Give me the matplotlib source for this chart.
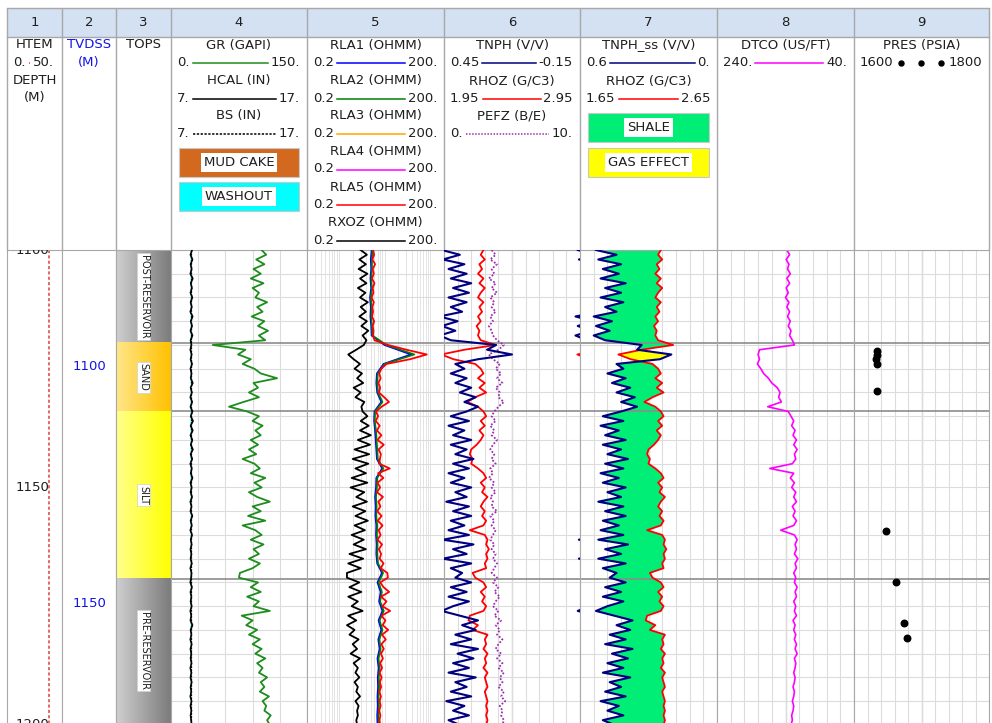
import matplotlib.pyplot as plt
import matplotlib.transforms as mtransforms
import numpy as np
from matplotlib.colors import LinearSegmentedColormap
from matplotlib.patches import Rectangle
from matplotlib.ticker import LogLocator, NullFormatter

# ---------------- data (1 m samples unless noted) ----------------
depth = np.arange(1100, 1201, 1.0)
depth2 = np.arange(1100, 1201, 2.0)

gr = [100, 105, 94, 103, 91, 99, 88, 102, 90, 97, 93, 106, 95, 101, 89, 103, 96, 107, 97, 104,
      46, 82, 74, 88, 79, 92, 99, 117, 91, 96, 86, 97, 80, 64,
      84, 97, 90, 101, 93, 99, 88, 96, 86, 94, 79, 92, 98, 88, 104, 92, 100, 86, 95, 109,
      90, 99, 85, 104, 79, 93, 100, 88, 102, 91, 97, 86, 98, 90, 76,
      75, 96, 88, 99, 84, 97, 91, 109, 78, 90, 83, 95, 86, 98, 90, 100, 93, 104, 95, 101,
      97, 106, 99, 103, 98, 108, 101, 105, 103, 110, 106, 109]

hcal = [8.55, 8.43, 8.58, 8.44, 8.52, 8.42, 8.6, 8.45, 8.54, 8.43, 8.57, 8.44, 8.53, 8.42, 8.59, 8.45, 8.55, 8.43, 8.58, 8.44,
        8.50, 8.42, 8.52, 8.44, 8.55, 8.43, 8.51, 8.45, 8.6, 8.44, 8.54, 8.42, 8.56, 8.43,
        8.58, 8.45, 8.62, 8.44, 8.6, 8.43, 8.57, 8.45, 8.61, 8.44, 8.56, 8.42, 8.53, 8.45, 8.58, 8.43, 8.52, 8.44, 8.55, 8.42,
        8.51, 8.43, 8.57, 8.44, 8.53, 8.42, 8.55, 8.45, 8.52, 8.43, 8.5, 8.44, 8.53, 8.42, 8.51,
        8.48, 8.42, 8.54, 8.43, 8.5, 8.44, 8.52, 8.42, 8.49, 8.43, 8.58, 8.44, 8.5, 8.42, 8.52, 8.43, 8.49, 8.44, 8.51, 8.42,
        8.5, 8.43, 8.52, 8.44, 8.49, 8.42, 8.51, 8.43, 8.5, 8.44, 8.48, 8.52]
bs = 8.45

rxoz = [3.0, 4.1, 2.8, 3.9, 2.7, 4.2, 2.9, 4.0, 2.6, 3.8, 2.9, 4.3, 3.0, 3.9, 2.8, 4.1, 3.1, 4.4, 3.3, 4.0,
        3.5, 2.4, 1.6, 2.1, 2.9, 2.2, 3.2, 2.5, 3.4, 2.1, 3.0, 2.3, 3.6, 3.1,
        3.3, 4.2, 3.0, 4.5, 2.9, 5.0, 2.6, 4.8, 2.2, 4.6, 2.0, 4.4, 2.3, 3.9, 1.9, 4.2, 1.8, 3.6, 2.4, 4.1,
        2.0, 3.8, 2.3, 4.3, 2.2, 3.7, 1.9, 3.5, 2.1, 3.9, 1.7, 3.4, 1.6, 3.0, 1.5,
        1.5, 2.8, 1.7, 3.1, 1.6, 2.6, 1.9, 3.3, 1.6, 2.4, 1.5, 2.2, 1.7, 2.7, 2.0, 2.5, 1.8, 2.9, 2.1, 2.6,
        2.3, 2.8, 2.2, 2.6, 2.4, 2.9, 2.3, 2.7, 2.5, 2.6, 2.4, 2.5]

rla5 = [5.6, 5.9, 5.4, 6.2, 5.5, 5.8, 5.3, 6.0, 5.5, 5.7, 5.2, 5.8, 5.4, 5.6, 5.3, 5.9, 5.5, 5.7, 5.6, 6.0,
        12, 30, 84, 36, 11, 8.5, 7.6, 8.2, 7.3, 8.0, 7.5, 9.8, 12.5, 8.6,
        6.5, 7.2, 6.4, 7.8, 6.8, 8.5, 7.0, 9.6, 7.4, 8.3, 7.9, 7.6, 13.0, 7.2, 9.4, 7.0, 8.0, 6.8, 9.2, 7.3,
        8.1, 6.9, 8.6, 7.1, 9.0, 7.4, 8.2, 7.0, 8.8, 7.5, 8.4, 7.8, 9.5, 8.2, 11.5,
        11.8, 8.0, 9.5, 12.6, 8.4, 11.0, 9.0, 13.2, 8.6, 10.4, 9.1, 12.0, 8.8, 10.6, 8.5, 9.6, 8.3, 9.2, 8.0, 8.8,
        7.8, 8.6, 7.9, 8.4, 7.7, 8.3, 7.8, 8.2, 7.6, 8.1, 7.7, 8.0]

# RLA1 and RLA2 on 2 m samples
rla1 = [5.2, 5.0, 5.1, 4.9, 5.1, 4.8, 5.0, 4.9, 5.1, 5.2, 10, 38, 9.5, 6.8, 6.6, 6.9, 8.5, 6.0, 5.9, 6.2,
        6.4, 6.6, 6.8, 8.9, 6.6, 6.5, 6.2, 6.4, 6.3, 6.6, 6.5, 6.7, 6.6, 6.9, 8.8, 7.0, 8.2, 7.6, 9.0, 7.4,
        8.5, 7.3, 7.8, 7.0, 7.4, 7.1, 7.2, 7.0, 7.1, 6.9, 7.0]
rla2 = [5.4, 5.3, 5.3, 5.1, 5.3, 5.0, 5.2, 5.1, 5.3, 5.4, 11, 45, 10, 7.1, 6.9, 7.2, 9.0, 6.2, 6.1, 6.5,
        6.7, 6.9, 7.1, 9.4, 6.9, 6.8, 6.5, 6.7, 6.6, 6.9, 6.8, 7.0, 6.9, 7.2, 9.3, 7.4, 8.7, 8.0, 9.6, 7.8,
        9.0, 7.7, 8.2, 7.4, 7.8, 7.5, 7.6, 7.4, 7.5, 7.3, 7.4]

tnph = [0.46, 0.38, 0.455, 0.36, 0.43, 0.35, 0.42, 0.33, 0.41, 0.34, 0.43, 0.35, 0.42, 0.37, 0.47, 0.39, 0.46, 0.40, 0.47, 0.42,
        0.22, 0.26, 0.15, 0.30, 0.40, 0.36, 0.42, 0.35, 0.40, 0.33, 0.38, 0.31, 0.36, 0.30,
        0.35, 0.42, 0.34, 0.43, 0.36, 0.41, 0.33, 0.42, 0.35, 0.40, 0.32, 0.41, 0.34, 0.43, 0.36, 0.42, 0.33, 0.40, 0.35, 0.44,
        0.34, 0.41, 0.33, 0.42, 0.36, 0.43, 0.34, 0.455, 0.32, 0.41, 0.35, 0.455, 0.33, 0.42, 0.37,
        0.40, 0.33, 0.42, 0.35, 0.43, 0.34, 0.41, 0.46, 0.38, 0.30, 0.37, 0.31, 0.40, 0.33, 0.42, 0.30, 0.39, 0.32, 0.41, 0.34,
        0.43, 0.31, 0.40, 0.35, 0.42, 0.33, 0.44, 0.36, 0.41, 0.34, 0.43, 0.38]

rhoz = [2.24, 2.22, 2.25, 2.21, 2.23, 2.20, 2.24, 2.21, 2.25, 2.22, 2.20, 2.24, 2.21, 2.23, 2.20, 2.22, 2.19, 2.21, 2.20, 2.22,
        2.33, 2.10, 1.93, 2.02, 2.18, 2.22, 2.24, 2.20, 2.25, 2.21, 2.26, 2.18, 2.12, 2.20,
        2.24, 2.26, 2.22, 2.25, 2.21, 2.24, 2.22, 2.19, 2.15, 2.14, 2.16, 2.15, 2.20, 2.24, 2.26, 2.22, 2.25, 2.23, 2.27, 2.24,
        2.22, 2.25, 2.23, 2.26, 2.24, 2.14, 2.25, 2.27, 2.26, 2.28, 2.26, 2.27, 2.25, 2.26, 2.16,
        2.18, 2.24, 2.26, 2.22, 2.25, 2.23, 2.26, 2.24, 2.14, 2.13, 2.20, 2.16, 2.27, 2.25, 2.26, 2.24, 2.27, 2.25, 2.26, 2.24,
        2.27, 2.25, 2.26, 2.27, 2.25, 2.26, 2.27, 2.26, 2.27, 2.26, 2.27, 2.26]

pefz = [3.5, 3.8, 3.4, 3.9, 3.5, 3.7, 3.3, 3.8, 3.5, 3.9, 3.4, 3.7, 3.5, 3.8, 3.4, 3.6, 3.3, 3.5, 3.6, 3.9,
        4.4, 4.0, 3.3, 3.6, 4.1, 3.8, 4.2, 3.9, 4.3, 3.8, 4.1, 4.0, 4.4, 4.0,
        3.7, 3.5, 3.8, 3.4, 3.7, 3.5, 3.9, 3.6, 3.4, 3.7, 3.5, 3.8, 3.4, 3.6, 3.3, 3.7, 3.5, 3.8, 3.4, 3.6,
        3.5, 3.9, 3.4, 3.7, 3.5, 3.8, 3.6, 3.4, 3.7, 3.5, 3.8, 3.6, 3.9, 3.7, 3.5,
        3.9, 3.6, 4.0, 3.7, 4.1, 3.8, 3.6, 4.0, 3.7, 4.2, 3.8, 4.1, 3.9, 4.3, 4.0, 3.8, 4.2, 3.9, 4.3, 4.0,
        4.4, 4.1, 4.3, 4.0, 4.4, 4.2, 4.5, 4.1, 4.3, 4.2, 4.4, 4.3]

tnph_ss = [0.53, 0.44, 0.52, 0.42, 0.50, 0.43, 0.51, 0.40, 0.49, 0.42, 0.51, 0.41, 0.49, 0.44, 0.54, 0.46, 0.53, 0.47, 0.54, 0.49,
           0.33, 0.35, 0.20, 0.25, 0.44, 0.41, 0.48, 0.40, 0.46, 0.38, 0.44, 0.36, 0.42, 0.35,
           0.42, 0.50, 0.41, 0.51, 0.43, 0.49, 0.40, 0.50, 0.42, 0.48, 0.39, 0.49, 0.41, 0.51, 0.43, 0.50, 0.40, 0.48, 0.42, 0.52,
           0.41, 0.49, 0.40, 0.50, 0.43, 0.51, 0.41, 0.52, 0.39, 0.49, 0.42, 0.52, 0.40, 0.50, 0.44,
           0.47, 0.40, 0.49, 0.42, 0.50, 0.41, 0.48, 0.53, 0.45, 0.37, 0.44, 0.38, 0.47, 0.40, 0.49, 0.37, 0.46, 0.39, 0.48, 0.41,
           0.50, 0.38, 0.47, 0.42, 0.49, 0.40, 0.51, 0.43, 0.48, 0.41, 0.50, 0.45]

dtco = [138, 134, 139, 135, 137, 133, 138, 134, 139, 136, 140, 135, 138, 134, 137, 133, 136, 132, 134, 130,
        127, 178, 180, 178, 181, 176, 172, 165, 160, 152, 148, 150, 146, 166,
        136, 132, 128, 131, 126, 129, 124, 128, 123, 127, 125, 130, 163, 128, 133, 127, 131, 125, 128, 124,
        130, 126, 129, 124, 128, 147, 127, 123, 126, 124, 127, 122, 126, 124, 128,
        125, 127, 123, 126, 124, 128, 125, 127, 124, 129, 126, 128, 125, 127, 124, 126, 123, 127, 125, 126,
        128, 126, 127, 129, 127, 128, 130, 128, 129, 131, 130, 132]

pres_md = [1121.3, 1122.2, 1122.9, 1124.0, 1129.7, 1159.2, 1170.0, 1178.6, 1181.6]
pres = [1634, 1634, 1633, 1634, 1634, 1648, 1662, 1674, 1679]

htem_md = [1100, 1200]
htem = [38.2, 38.2]

depth_labels = [1100, 1150, 1200]
tvdss_labels = [1100, 1150]
tvdss_md = [1124.5, 1174.5]

tops_names = ['POST-RESERVOIR', 'SAND', 'SILT', 'PRE-RESERVOIR']
tops_md = [1100.0, 1119.6, 1134.0, 1169.2]

# ---------------- layout ----------------
W, H = 992, 723
fig = plt.figure(figsize=(W / 100, H / 100), dpi=100)
fig.patch.set_facecolor('white')
plt.rcParams['font.family'] = 'DejaVu Sans'

FS = 9.5
TXT = '#1e1e1e'
BORDER = '#a8a8a8'
GRID = '#dcdcdc'
GRID_MID = '#b8b8b8'
TOPLINE = '#8c8c8c'
NAVY = '#000080'

xs = [7, 62, 116, 171, 307, 444, 580, 717, 854, 989]
Y_TOP, Y_BOT = 250, 723
TOP_MD, BOT_MD = 1100.0, 1199.6


def px_box(x0, y0, x1, y1):
    return [x0 / W, 1 - y1 / H, (x1 - x0) / W, (y1 - y0) / H]


def track(i):
    ax = fig.add_axes(px_box(xs[i], Y_TOP, xs[i + 1], Y_BOT))
    ax.set_ylim(BOT_MD, TOP_MD)
    ax.tick_params(which='both', left=False, bottom=False, labelleft=False, labelbottom=False, length=0)
    for s in ['left', 'right', 'top']:
        ax.spines[s].set_color(BORDER)
    ax.spines['bottom'].set_visible(False)
    return ax


def twin(ax, lo, hi, log=False):
    t = ax.twiny()
    if log:
        t.set_xscale('log')
    t.set_xlim(lo, hi)
    t.axis('off')
    return t


def grid_track(ax, xticks, mid=None):
    ax.set_xticks(xticks)
    ax.set_yticks(np.arange(1100, 1201, 5))
    ax.set_axisbelow(True)
    ax.grid(True, which='major', color=GRID, lw=0.8)
    if mid is not None:
        ax.axvline(mid, color=GRID_MID, lw=0.9, zorder=0.5)


axs = [track(i) for i in range(9)]

# track 1: depth
a = axs[0]
a.set_xlim(0, 50)
a.plot(htem, htem_md, color='#e03c3c', ls=(0, (2, 1.5)), lw=1.1)
bt = mtransforms.blended_transform_factory(a.transAxes, a.transData)
for d in depth_labels:
    a.text(0.77, d, str(d), transform=bt, ha='right', va='center', fontsize=FS, color=TXT, clip_on=True)

# track 2: TVDSS
a = axs[1]
bt = mtransforms.blended_transform_factory(a.transAxes, a.transData)
for lab, md in zip(tvdss_labels, tvdss_md):
    a.text(0.5, md, str(lab), transform=bt, ha='center', va='center', fontsize=FS, color='#1414e6')

# track 3: tops with gradient fills
a = axs[2]
zone_cols = {'POST-RESERVOIR': ('#cfcfcf', '#7c7c7c'), 'SAND': ('#ffe68a', '#ffc100'),
             'SILT': ('#ffff8c', '#ffff00'), 'PRE-RESERVOIR': ('#cfcfcf', '#7c7c7c')}
bounds = tops_md + [BOT_MD]
for k, name in enumerate(tops_names):
    y0, y1 = bounds[k], bounds[k + 1]
    cmap = LinearSegmentedColormap.from_list(name, zone_cols[name])
    a.imshow(np.linspace(0, 1, 64).reshape(1, -1), cmap=cmap, aspect='auto',
             extent=[0, 1, y1, y0], zorder=0)
    a.text(0.5, (y0 + y1) / 2, name, rotation=270, ha='center', va='center', fontsize=7, color=TXT,
           bbox=dict(facecolor='white', edgecolor='#d0d0d0', lw=0.5, pad=1.2))
a.set_xlim(0, 1)

# track 4: GR, HCAL, BS
a = axs[3]
a.set_xlim(0, 150)
grid_track(a, np.linspace(0, 150, 6))
hc = twin(a, 7, 17)
hc.fill_betweenx(depth, bs, hcal, where=np.array(hcal) > bs, color='#00ffff', interpolate=True, lw=0)
hc.fill_betweenx(depth, bs, hcal, where=np.array(hcal) < bs, color='#d2691e', interpolate=True, lw=0)
hc.plot([bs, bs], [1100, 1200], color='black', ls=(0, (1.5, 1)), lw=0.9)
hc.plot(hcal, depth, color='black', lw=1.2)
g = twin(a, 0, 150)
g.plot(gr, depth, color='#1e8c1e', lw=1.3)

# track 5: resistivity (log)
a = axs[4]
a.set_xscale('log')
a.set_xlim(0.2, 200)
a.xaxis.set_minor_locator(LogLocator(base=10, subs=np.arange(2, 10)))
a.xaxis.set_minor_formatter(NullFormatter())
a.set_yticks(np.arange(1100, 1201, 5))
a.set_axisbelow(True)
a.grid(True, which='both', axis='x', color='#e4e4e4', lw=0.7)
a.grid(True, which='major', axis='y', color=GRID, lw=0.8)
r = twin(a, 0.2, 200, log=True)
r.plot(rxoz, depth, color='black', lw=1.3)
r.plot(rla1, depth2, color='#0000ff', lw=1.3)
r.plot(rla2, depth2, color='#008000', lw=1.2)
r.plot(rla5, depth, color='#ff0000', lw=1.3)

# track 6: TNPH, RHOZ, PEFZ
a = axs[5]
a.set_xlim(0.45, -0.15)
grid_track(a, np.linspace(0.45, -0.15, 11), mid=0.15)
p = twin(a, 0, 10)
p.plot(pefz, depth, color='#9b30b0', ls=(0, (1, 1)), lw=1.3)
rh = twin(a, 1.95, 2.95)
rh.plot(rhoz, depth, color='#ff0000', lw=1.3)
rhw = twin(a, 0.95, 1.95)  # wrapped part of RHOZ
rhw.plot(rhoz, depth, color='#ff0000', lw=1.3)
n = twin(a, 0.45, -0.15)
n.plot(tnph, depth, color=NAVY, lw=1.5)
nw = twin(a, 1.05, 0.45)  # wrapped part of TNPH
nw.plot(tnph, depth, color=NAVY, lw=1.5)

# track 7: TNPH_ss, RHOZ with shale / gas fills
a = axs[6]
a.set_xlim(0.6, 0.0)
grid_track(a, np.linspace(0.6, 0.0, 11), mid=0.3)
rho_in_nphi = 0.6 - (np.array(rhoz) - 1.65) * 0.6   # RHOZ placed on the TNPH_ss scale
nss = np.array(tnph_ss)
a.fill_betweenx(depth, nss, rho_in_nphi, where=nss >= rho_in_nphi, color='#00ee76', interpolate=True, lw=0)
a.fill_betweenx(depth, nss, rho_in_nphi, where=nss < rho_in_nphi, color='#ffff00', interpolate=True, lw=0)
rh7 = twin(a, 1.65, 2.65)
rh7.plot(rhoz, depth, color='#ff0000', lw=1.3)
n7 = twin(a, 0.6, 0.0)
n7.plot(tnph_ss, depth, color=NAVY, lw=1.5)

# track 8: DTCO
a = axs[7]
a.set_xlim(240, 40)
grid_track(a, np.linspace(240, 40, 11), mid=140)
a.plot(dtco, depth, color='#ff00ff', lw=1.2)

# track 9: pressure points
a = axs[8]
a.set_xlim(1600, 1800)
grid_track(a, np.linspace(1600, 1800, 11), mid=1700)
a.scatter(pres, pres_md, s=22, color='black', zorder=5)

# tops lines across the curve tracks
for a in axs[3:]:
    for t in tops_md[1:]:
        a.axhline(t, color=TOPLINE, lw=1.2, zorder=1.5)

for a in axs:
    a.set_ylim(BOT_MD, TOP_MD)

# ---------------- header ----------------
hax = fig.add_axes([0, 0, 1, 1], zorder=-1)
hax.set_xlim(0, W)
hax.set_ylim(H, 0)
hax.axis('off')
hax.add_patch(Rectangle((xs[0], 8), xs[-1] - xs[0], 29, facecolor='#d3e1f2', edgecolor='none'))
hax.plot([xs[0], xs[-1]], [8, 8], color=BORDER, lw=1)
hax.plot([xs[0], xs[-1]], [37, 37], color=BORDER, lw=1)
hax.vlines(xs, 8, Y_TOP, color=BORDER, lw=1)
for i in range(9):
    hax.text((xs[i] + xs[i + 1]) / 2, 23, str(i + 1), ha='center', va='center', fontsize=FS, color=TXT)

rows = []


def title(i, y, s, color=TXT):
    hax.text((xs[i] + xs[i + 1]) / 2, y, s, ha='center', va='center', fontsize=FS, color=color)


def scale_row(i, y, lo, hi, color, ls='-', pad_r=7):
    tl = hax.text(xs[i] + 6, y, lo, ha='left', va='center', fontsize=FS, color=TXT)
    tr = hax.text(xs[i + 1] - pad_r, y, hi, ha='right', va='center', fontsize=FS, color=TXT)
    rows.append((tl, tr, y, color, ls))


def box(i, y0, y1, face, label):
    x0, x1 = xs[i] + 8, xs[i + 1] - 8
    hax.add_patch(Rectangle((x0, y0), x1 - x0, y1 - y0, facecolor=face, edgecolor='#c8c8c8', lw=0.8))
    hax.text((x0 + x1) / 2, (y0 + y1) / 2, label, ha='center', va='center', fontsize=FS, color=TXT,
             bbox=dict(facecolor='white', edgecolor='none', pad=2))


TY = [45, 80.5, 116, 151.5, 187, 222.5]

title(0, TY[0], 'HTEM')
scale_row(0, TY[0] + 17.5, '0.', '50.', '#e03c3c', (0, (1.5, 1)), pad_r=8)
title(0, TY[1], 'DEPTH')
title(0, TY[1] + 17.5, '(M)')
title(1, TY[0], 'TVDSS', color='#1414e6')
title(1, TY[0] + 17.5, '(M)', color='#1414e6')
title(2, TY[0], 'TOPS')

title(3, TY[0], 'GR (GAPI)')
scale_row(3, TY[0] + 17.5, '0.', '150.', '#1e8c1e')
title(3, TY[1], 'HCAL (IN)')
scale_row(3, TY[1] + 17.5, '7.', '17.', 'black')
title(3, TY[2], 'BS (IN)')
scale_row(3, TY[2] + 17.5, '7.', '17.', 'black', (0, (1.5, 1)))
box(3, 148, 177, '#d2691e', 'MUD CAKE')
box(3, 182, 211, '#00ffff', 'WASHOUT')

res = [('RLA1 (OHMM)', '#0000ff'), ('RLA2 (OHMM)', '#008000'), ('RLA3 (OHMM)', '#ffa500'),
       ('RLA4 (OHMM)', '#ff00ff'), ('RLA5 (OHMM)', '#ff0000'), ('RXOZ (OHMM)', 'black')]
for k, (name, col) in enumerate(res):
    title(4, TY[k], name)
    scale_row(4, TY[k] + 17.5, '0.2', '200.', col)

title(5, TY[0], 'TNPH (V/V)')
scale_row(5, TY[0] + 17.5, '0.45', '-0.15', NAVY)
title(5, TY[1], 'RHOZ (G/C3)')
scale_row(5, TY[1] + 17.5, '1.95', '2.95', '#ff0000')
title(5, TY[2], 'PEFZ (B/E)')
scale_row(5, TY[2] + 17.5, '0.', '10.', '#9b30b0', (0, (1, 1)))

title(6, TY[0], 'TNPH_ss (V/V)')
scale_row(6, TY[0] + 17.5, '0.6', '0.', NAVY)
title(6, TY[1], 'RHOZ (G/C3)')
scale_row(6, TY[1] + 17.5, '1.65', '2.65', '#ff0000')
box(6, 113, 142, '#00ee76', 'SHALE')
box(6, 148, 177, '#ffff00', 'GAS EFFECT')

title(7, TY[0], 'DTCO (US/FT)')
scale_row(7, TY[0] + 17.5, '240.', '40.', '#ff00ff')

title(8, TY[0], 'PRES (PSIA)')
scale_row(8, TY[0] + 17.5, '1600', '1800', 'dots')

# sample lines between the scale values, sized from the drawn text
fig.canvas.draw()
renderer = fig.canvas.get_renderer()
inv = hax.transData.inverted()
for tl, tr, y, col, ls in rows:
    xa = inv.transform((tl.get_window_extent(renderer).x1, 0))[0]
    xb = inv.transform((tr.get_window_extent(renderer).x0, 0))[0]
    if col == 'dots':
        hax.plot([xa + 7, (xa + xb) / 2, xb - 7], [y + 0.5] * 3, 'o', ms=3.6, color='black')
    else:
        hax.plot([xa + 3, xb - 3], [y + 0.5, y + 0.5], color=col, ls=ls, lw=1.1)

fig.savefig('out.png', dpi=100)
